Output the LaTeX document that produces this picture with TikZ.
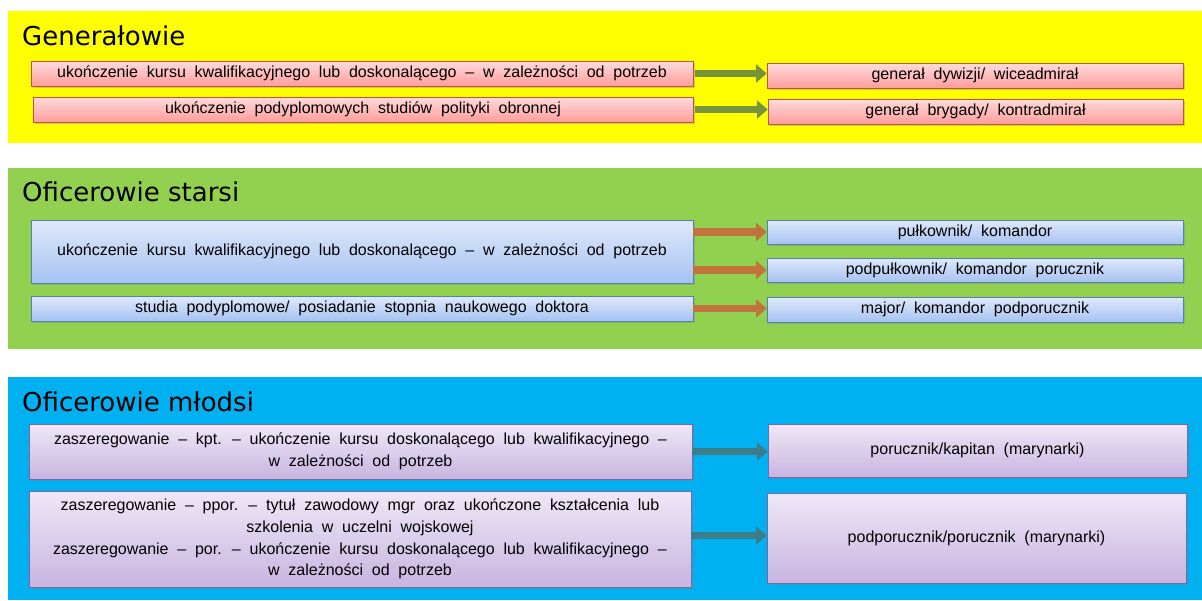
\documentclass[tikz,border=0pt]{standalone}
\usepackage{fontspec}
\setmainfont{Liberation Sans}
\newfontfamily\headfont{DejaVu Sans}
\usepackage{tikz}
\usetikzlibrary{arrows.meta, shadows}

\definecolor{panelY}{HTML}{FFFF00}
\definecolor{panelG}{HTML}{92D050}
\definecolor{panelB}{HTML}{00B0F0}
\definecolor{arrY}{HTML}{77933C}
\definecolor{arrG}{HTML}{C0733A}
\definecolor{arrB}{HTML}{3B7D89}
\definecolor{lineY}{HTML}{C0504D}
\definecolor{topY}{HTML}{FFDCDC}
\definecolor{botY}{HTML}{FF9C9C}
\definecolor{lineG}{HTML}{4F81BD}
\definecolor{topG}{HTML}{DFE9FA}
\definecolor{botG}{HTML}{A6C2F2}
\definecolor{lineB}{HTML}{8064A2}
\definecolor{topB}{HTML}{EFE8F7}
\definecolor{botB}{HTML}{C8B4E0}

\newcommand{\boxfont}{\fontsize{9.1}{12.4}\selectfont\spaceskip=5pt plus 1pt minus 1pt\relax}

\begin{document}
\begin{tikzpicture}[x=0.02cm, y=-0.02cm]

    % Page frame
    \useasboundingbox (0,0) rectangle (1202,600);

    % Boxes
    \tikzset{bx/.style={draw, rectangle, inner sep = 2pt, align = center, font = \boxfont,
        drop shadow = {opacity = 0.35, shadow xshift = 1.2pt, shadow yshift = -1.2pt}}}
    \tikzset{rY/.style={bx, draw = lineY, top color = topY, bottom color = botY}}
    \tikzset{rG/.style={bx, draw = lineG, top color = topG, bottom color = botG}}
    \tikzset{rB/.style={bx, draw = lineB, top color = topB, bottom color = botB}}
    \tikzset{head/.style={anchor = base west, font = \headfont\fontsize{14.8}{16}\selectfont}}

    % Arrows
    \tikzset{aY/.style={draw = arrY, line width = 4.5pt, -{Triangle[length = 6pt, width = 10pt]}}}
    \tikzset{aG/.style={aY, draw = arrG}}
    \tikzset{aB/.style={aY, draw = arrB}}

    % Panels
    \fill[panelY] (8, 11) rectangle (1202, 143);
    \fill[panelG] (8, 168) rectangle (1202, 349);
    \fill[panelB] (8, 377) rectangle (1202, 600);

    % Generalowie
    \node (hY) [head] at (16, 45) {Generałowie};
    	\node (y1) [rY, minimum width = 13.24cm, minimum height = 0.5cm] at (362, 73.5)
    		{ukończenie kursu kwalifikacyjnego lub doskonalącego – w zależności od potrzeb};
    	\node (y2) [rY, minimum width = 13.2cm, minimum height = 0.5cm] at (363, 109.5)
    		{ukończenie podyplomowych studiów polityki obronnej};
    	\node (yr1) [rY, minimum width = 8.32cm, minimum height = 0.5cm] at (975, 75.5)
    		{generał dywizji/ wiceadmirał};
    	\node (yr2) [rY, minimum width = 8.3cm, minimum height = 0.5cm] at (975.5, 111.5)
    		{generał brygady/ kontradmirał};

    % Oficerowie starsi
    \node (hG) [head] at (16, 201) {Oficerowie starsi};
    	\node (g1) [rG, minimum width = 13.24cm, minimum height = 1.26cm] at (362, 251.5)
    		{ukończenie kursu kwalifikacyjnego lub doskonalącego – w zależności od potrzeb};
    	\node (g2) [rG, minimum width = 13.24cm, minimum height = 0.5cm] at (362, 308.5)
    		{studia podyplomowe/ posiadanie stopnia naukowego doktora};
    	\node (gr1) [rG, minimum width = 8.32cm, minimum height = 0.48cm] at (975, 232)
    		{pułkownik/ komandor};
    	\node (gr2) [rG, minimum width = 8.32cm, minimum height = 0.48cm] at (975, 270)
    		{podpułkownik/ komandor porucznik};
    	\node (gr3) [rG, minimum width = 8.32cm, minimum height = 0.5cm] at (975, 309.5)
    		{major/ komandor podporucznik};

    % Oficerowie mlodsi
    \node (hB) [head] at (16, 411) {Oficerowie młodsi};
    	\node (b1) [rB, minimum width = 13.26cm, minimum height = 1.1cm] at (360.5, 451.5)
    		{zaszeregowanie – kpt. – ukończenie kursu doskonalącego lub kwalifikacyjnego –\\
    		 w zależności od potrzeb};
    	\node (b2) [rB, minimum width = 13.24cm, minimum height = 1.92cm] at (360, 539)
    		{zaszeregowanie – ppor. – tytuł zawodowy mgr oraz ukończone kształcenia lub\\
    		 szkolenia w uczelni wojskowej\\
    		 zaszeregowanie – por. – ukończenie kursu doskonalącego lub kwalifikacyjnego –\\
    		 w zależności od potrzeb};
    	\node (br1) [rB, minimum width = 8.38cm, minimum height = 1.06cm] at (977.5, 450.5)
    		{porucznik/kapitan (marynarki)};
    	\node (br2) [rB, minimum width = 8.38cm, minimum height = 1.8cm] at (976.5, 538)
    		{podporucznik/porucznik (marynarki)};

    % Connectors
    \path[aY] ([xshift = 1pt]y1.east) -- (y1.east -| yr1.west);
    \path[aY] ([xshift = 1pt]y2.east) -- (y2.east -| yr2.west);
    \path[aG] (g1.east |- gr1) -- (gr1.west);
    \path[aG] (g1.east |- gr2) -- (gr2.west);
    \path[aG] (g2.east) -- (g2.east -| gr3.west);
    \path[aB] (b1.east) -- (b1.east -| br1.west);
    \path[aB] ([yshift = 2pt]b2.east) -- ([yshift = 2pt]b2.east -| br2.west);

\end{tikzpicture}
\end{document}
